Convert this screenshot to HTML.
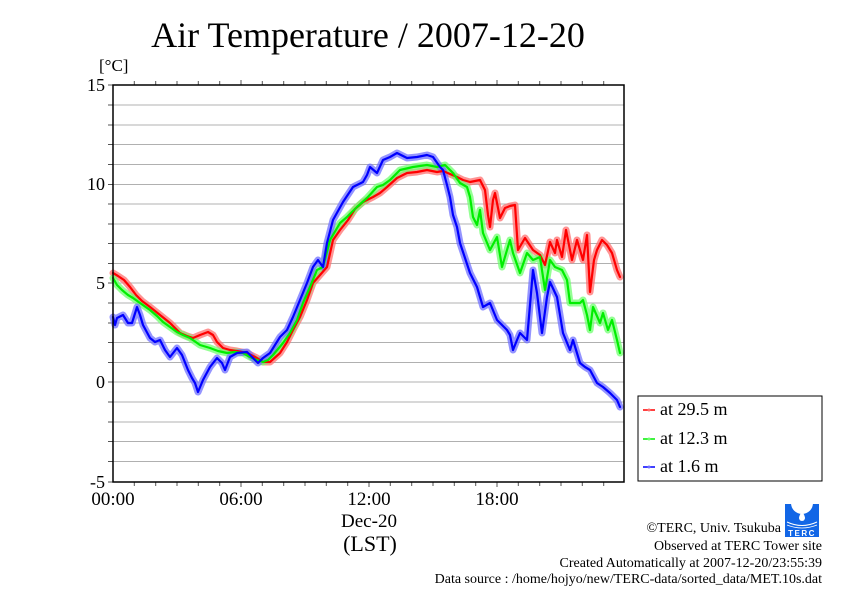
<!DOCTYPE html>
<html><head><meta charset="utf-8"><style>
html,body{margin:0;padding:0;background:#fff;}
svg{display:block;}
text{font-family:"Liberation Serif","Times New Roman",serif;fill:#000;}
</style></head><body>
<svg width="842" height="595" viewBox="0 0 842 595" xmlns="http://www.w3.org/2000/svg">
<rect x="0" y="0" width="842" height="595" fill="#fff"/>
<text x="368" y="47" font-size="36" text-anchor="middle">Air Temperature / 2007-12-20</text>
<text x="99" y="71" font-size="17">[°C]</text>
<!-- grid -->
<g stroke="#b0b0b0" stroke-width="1">
<line x1="113" x2="624" y1="105" y2="105"/><line x1="113" x2="624" y1="125" y2="125"/><line x1="113" x2="624" y1="144.5" y2="144.5"/><line x1="113" x2="624" y1="164.5" y2="164.5"/><line x1="113" x2="624" y1="184.5" y2="184.5"/>
<line x1="113" x2="624" y1="204" y2="204"/><line x1="113" x2="624" y1="224" y2="224"/><line x1="113" x2="624" y1="243.5" y2="243.5"/><line x1="113" x2="624" y1="263.5" y2="263.5"/><line x1="113" x2="624" y1="283" y2="283"/>
<line x1="113" x2="624" y1="303" y2="303"/><line x1="113" x2="624" y1="323" y2="323"/><line x1="113" x2="624" y1="342.5" y2="342.5"/><line x1="113" x2="624" y1="362.5" y2="362.5"/><line x1="113" x2="624" y1="382" y2="382"/>
<line x1="113" x2="624" y1="402" y2="402"/><line x1="113" x2="624" y1="422" y2="422"/><line x1="113" x2="624" y1="441.5" y2="441.5"/><line x1="113" x2="624" y1="461.5" y2="461.5"/>
</g>
<!-- left ticks -->
<g stroke="#555" stroke-width="1">
<line x1="108" x2="113" y1="105" y2="105"/><line x1="108" x2="113" y1="125" y2="125"/><line x1="108" x2="113" y1="144.5" y2="144.5"/><line x1="108" x2="113" y1="164.5" y2="164.5"/><line x1="108" x2="113" y1="184.5" y2="184.5"/>
<line x1="108" x2="113" y1="204" y2="204"/><line x1="108" x2="113" y1="224" y2="224"/><line x1="108" x2="113" y1="243.5" y2="243.5"/><line x1="108" x2="113" y1="263.5" y2="263.5"/><line x1="108" x2="113" y1="283" y2="283"/>
<line x1="108" x2="113" y1="303" y2="303"/><line x1="108" x2="113" y1="323" y2="323"/><line x1="108" x2="113" y1="342.5" y2="342.5"/><line x1="108" x2="113" y1="362.5" y2="362.5"/><line x1="108" x2="113" y1="382" y2="382"/>
<line x1="108" x2="113" y1="402" y2="402"/><line x1="108" x2="113" y1="422" y2="422"/><line x1="108" x2="113" y1="441.5" y2="441.5"/><line x1="108" x2="113" y1="461.5" y2="461.5"/>
<line x1="108" x2="113" y1="85" y2="85"/><line x1="108" x2="113" y1="482" y2="482"/>
</g>
<!-- top/bottom ticks hourly -->
<g stroke="#555" stroke-width="1">
<path d="M134.3 81V85M155.7 81V85M177 81V85M198.3 81V85M219.7 81V85M241 80V85M262.3 81V85M283.7 81V85M305 81V85M326.3 81V85M347.7 81V85M369 80V85M390.3 81V85M411.7 81V85M433 81V85M454.3 81V85M475.7 81V85M497 80V85M518.3 81V85M539.7 81V85M561 81V85M582.3 81V85M603.7 81V85"/>
<path d="M134.3 482V486M155.7 482V486M177 482V486M198.3 482V486M219.7 482V486M241 482V487M262.3 482V486M283.7 482V486M305 482V486M326.3 482V486M347.7 482V486M369 482V487M390.3 482V486M411.7 482V486M433 482V486M454.3 482V486M475.7 482V486M497 482V487M518.3 482V486M539.7 482V486M561 482V486M582.3 482V486M603.7 482V486"/>
</g>
<!-- series -->
<g fill="none" stroke-linejoin="round" stroke-linecap="round">
<polyline stroke="#ff7070" stroke-opacity="0.75" stroke-width="7" points="113,273 118,276 124,280 130,287 136,295 142,301 150,307 160,315 170,323 180,333 187,336 193,338 200,335 208,332 213,335 217,342 223,348 230,350 237,351 247,353 257,358 263,362 270,362 280,353 287,342 293,330 300,317 307,300 313,283 320,275 327,267 333,240 340,230 348,220 355,209 363,202 373,197 380,193 387,187 397,178 407,173 417,172 427,170 437,172 443,171 450,174 457,177 463,180 470,182 475,181 480,180 485,190 488,215 490,227 493,200 495,193 500,218 505,208 510,206 515,205 518,250 525,238 533,250 540,255 545,265 550,242 555,253 557,240 562,257 566,230 572,260 577,240 583,260 587,235 590,292 594,260 597,250 602,240 607,245 612,253 617,270 620,277"/>
<polyline stroke="#70ff70" stroke-opacity="0.75" stroke-width="7" points="113,278 117,285 122,290 128,295 133,298 140,303 150,310 157,316 163,322 170,327 177,332 183,335 190,338 200,345 210,348 218,351 227,353 235,352 243,353 250,357 257,360 263,362 268,360 273,355 283,343 290,333 297,320 303,303 310,287 317,270 323,267 330,240 340,223 347,217 357,207 367,198 377,187 383,185 390,180 400,170 413,167 427,165 437,167 445,165 453,173 460,183 467,187 470,197 473,217 477,225 480,210 483,233 490,250 497,237 502,267 507,250 510,240 513,253 520,273 527,253 533,260 540,257 545,290 550,260 555,267 562,270 567,280 570,303 580,303 583,300 587,315 590,330 593,307 600,323 603,313 608,330 612,320 617,340 620,353"/>
<polyline stroke="#7070ff" stroke-opacity="0.75" stroke-width="7" points="113,317 115,325 117,318 123,315 128,323 132,323 137,307 140,315 143,325 150,338 155,342 160,340 165,350 170,357 177,348 182,355 188,370 192,378 195,383 198,392 203,380 210,367 217,358 222,363 225,370 230,357 237,353 247,352 253,358 258,363 263,358 270,353 280,337 287,330 293,317 300,300 307,283 313,267 318,260 323,267 327,243 333,220 343,202 353,187 363,182 367,175 370,167 377,173 383,160 390,157 397,153 407,158 417,157 427,155 433,157 440,167 443,170 447,185 450,197 453,215 457,227 460,243 463,252 470,273 477,287 483,307 490,303 497,320 502,325 507,330 510,335 513,350 517,340 520,333 527,340 533,270 537,293 542,333 547,297 550,282 557,297 563,333 570,350 573,340 580,363 585,367 590,370 597,383 603,387 610,393 617,400 620,407"/>
<polyline stroke="#ff0000" stroke-width="2.2" points="113,273 118,276 124,280 130,287 136,295 142,301 150,307 160,315 170,323 180,333 187,336 193,338 200,335 208,332 213,335 217,342 223,348 230,350 237,351 247,353 257,358 263,362 270,362 280,353 287,342 293,330 300,317 307,300 313,283 320,275 327,267 333,240 340,230 348,220 355,209 363,202 373,197 380,193 387,187 397,178 407,173 417,172 427,170 437,172 443,171 450,174 457,177 463,180 470,182 475,181 480,180 485,190 488,215 490,227 493,200 495,193 500,218 505,208 510,206 515,205 518,250 525,238 533,250 540,255 545,265 550,242 555,253 557,240 562,257 566,230 572,260 577,240 583,260 587,235 590,292 594,260 597,250 602,240 607,245 612,253 617,270 620,277"/>
<polyline stroke="#00ee00" stroke-width="2.2" points="113,278 117,285 122,290 128,295 133,298 140,303 150,310 157,316 163,322 170,327 177,332 183,335 190,338 200,345 210,348 218,351 227,353 235,352 243,353 250,357 257,360 263,362 268,360 273,355 283,343 290,333 297,320 303,303 310,287 317,270 323,267 330,240 340,223 347,217 357,207 367,198 377,187 383,185 390,180 400,170 413,167 427,165 437,167 445,165 453,173 460,183 467,187 470,197 473,217 477,225 480,210 483,233 490,250 497,237 502,267 507,250 510,240 513,253 520,273 527,253 533,260 540,257 545,290 550,260 555,267 562,270 567,280 570,303 580,303 583,300 587,315 590,330 593,307 600,323 603,313 608,330 612,320 617,340 620,353"/>
<polyline stroke="#0000ff" stroke-width="2.2" points="113,317 115,325 117,318 123,315 128,323 132,323 137,307 140,315 143,325 150,338 155,342 160,340 165,350 170,357 177,348 182,355 188,370 192,378 195,383 198,392 203,380 210,367 217,358 222,363 225,370 230,357 237,353 247,352 253,358 258,363 263,358 270,353 280,337 287,330 293,317 300,300 307,283 313,267 318,260 323,267 327,243 333,220 343,202 353,187 363,182 367,175 370,167 377,173 383,160 390,157 397,153 407,158 417,157 427,155 433,157 440,167 443,170 447,185 450,197 453,215 457,227 460,243 463,252 470,273 477,287 483,307 490,303 497,320 502,325 507,330 510,335 513,350 517,340 520,333 527,340 533,270 537,293 542,333 547,297 550,282 557,297 563,333 570,350 573,340 580,363 585,367 590,370 597,383 603,387 610,393 617,400 620,407"/>
</g>
<!-- axes frame -->
<rect x="113" y="85" width="511" height="397" fill="none" stroke="#000" stroke-width="1.5"/>
<!-- y labels -->
<g font-size="18" text-anchor="end">
<text x="105" y="91">15</text>
<text x="105" y="190">10</text>
<text x="105" y="289">5</text>
<text x="105" y="388">0</text>
<text x="105" y="488">-5</text>
</g>
<!-- x labels -->
<g font-size="19" text-anchor="middle">
<text x="113" y="505">00:00</text>
<text x="241" y="505">06:00</text>
<text x="369" y="505">12:00</text>
<text x="497" y="505">18:00</text>
<text x="369" y="527">Dec-20</text>
</g>
<text x="370" y="551" font-size="22" text-anchor="middle">(LST)</text>
<!-- legend -->
<rect x="638" y="396" width="184" height="85" fill="#fff" stroke="#000" stroke-width="1"/>
<g stroke-width="1.5">
<line x1="643" x2="655" y1="410" y2="410" stroke="#ff0000"/><circle cx="649" cy="410" r="1.5" fill="#ff7070"/>
<line x1="643" x2="655" y1="439" y2="439" stroke="#00ee00"/><circle cx="649" cy="439" r="1.5" fill="#70ff70"/>
<line x1="643" x2="655" y1="467" y2="467" stroke="#0000ff"/><circle cx="649" cy="467" r="1.5" fill="#7070ff"/>
</g>
<g font-size="18">
<text x="660" y="415">at 29.5 m</text>
<text x="660" y="444">at 12.3 m</text>
<text x="660" y="472">at 1.6 m</text>
</g>
<!-- logo -->
<g>
<rect x="785" y="504" width="34" height="33" fill="#1266e6"/>
<ellipse cx="802" cy="503" rx="11" ry="11" fill="#fff"/>
<rect x="785" y="500" width="34" height="4" fill="#fff"/>
<path d="M802 511 Q799 516 799 518 A3 3 0 0 0 805 518 Q805 516 802 511Z" fill="#fff"/>
<path d="M787 522 Q802 529 817 522" fill="none" stroke="#fff" stroke-width="1"/>
<path d="M787 525 Q802 531 817 525" fill="none" stroke="#fff" stroke-width="0.8"/>
<text x="802" y="536" font-size="8" font-weight="bold" text-anchor="middle" style="fill:#fff;font-family:'Liberation Sans',sans-serif" letter-spacing="1.5">TERC</text>
</g>
<!-- footer -->
<g font-size="14" text-anchor="end">
<text x="781" y="532">©TERC, Univ. Tsukuba</text>
<text x="822" y="550">Observed at TERC Tower site</text>
<text x="822" y="567">Created Automatically at 2007-12-20/23:55:39</text>
<text x="822" y="583">Data source : /home/hojyo/new/TERC-data/sorted_data/MET.10s.dat</text>
</g>
</svg>
</body></html>
